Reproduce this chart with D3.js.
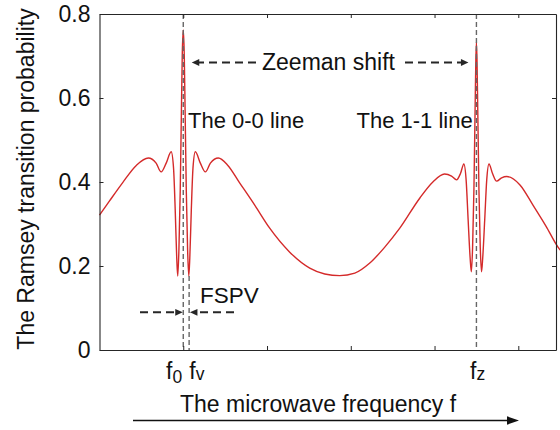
<!DOCTYPE html>
<html>
<head>
<meta charset="utf-8">
<script src="https://cdn.jsdelivr.net/npm/d3@7/dist/d3.min.js"></script>
<style>
  html, body { margin: 0; padding: 0; background: #fff; }
  svg { display: block; }
  text { font-family: "Liberation Sans", Arial, Helvetica, sans-serif; fill: #111; }
</style>
</head>
<body>
<script>
// ---------- data ----------
const yTickValues = [0, 0.2, 0.4, 0.6, 0.8];
const yTickLabels = ["0", "0.2", "0.4", "0.6", "0.8"];
const xTickValues = [1, 2, 3, 4, 5];

// microwave frequency (arbitrary units, f0 = 1, fz = 4.5)
const freq = [
  0.000, 0.120, 0.275, 0.442,
  0.582, 0.676, 0.736, 0.796, 0.856, 0.884, 0.904, 0.922, 0.934, 0.948, 0.964, 0.978, 0.988,
  1.000,
  1.012, 1.022, 1.036, 1.052, 1.066, 1.078, 1.096, 1.116, 1.144, 1.204, 1.264, 1.324, 1.419,
  1.530, 1.673, 1.853, 2.032, 2.271, 2.510, 2.689, 2.868, 3.048, 3.227, 3.406, 3.585, 3.825, 3.980,
  4.119, 4.203, 4.263, 4.311, 4.350, 4.377, 4.401, 4.425, 4.439, 4.454, 4.470, 4.484, 4.493,
  4.500,
  4.507, 4.516, 4.530, 4.546, 4.561, 4.575, 4.599, 4.623, 4.650, 4.691, 4.741, 4.801, 4.861,
  5.020, 5.175, 5.330, 5.474, 5.500
];
// Ramsey transition probability
const prob = [
  0.321, 0.355, 0.398, 0.440,
  0.457, 0.445, 0.424, 0.445, 0.472, 0.433, 0.333, 0.219, 0.176, 0.238, 0.381, 0.571, 0.702,
  0.762,
  0.702, 0.571, 0.381, 0.238, 0.176, 0.219, 0.333, 0.433, 0.472, 0.445, 0.424, 0.445, 0.457,
  0.440, 0.398, 0.345, 0.290, 0.233, 0.195, 0.181, 0.177, 0.183, 0.207, 0.245, 0.290, 0.362, 0.400,
  0.419, 0.414, 0.405, 0.421, 0.443, 0.405, 0.310, 0.219, 0.186, 0.243, 0.381, 0.571, 0.690,
  0.733,
  0.690, 0.571, 0.381, 0.243, 0.186, 0.219, 0.310, 0.405, 0.443, 0.421, 0.402, 0.410, 0.413,
  0.393, 0.345, 0.295, 0.245, 0.238
];

const f0 = 1.0, fv = 1.07, fz = 4.5;
const fvDipProb = 0.176;

// ---------- chart ----------
const W = 560, H = 430;
const svg = d3.select("body").append("svg").attr("width", W).attr("height", H);

const x = d3.scaleLinear().domain([0, 5.45]).range([99.5, 556]);
const y = d3.scaleLinear().domain([0, 0.8]).range([350, 14]);

const axisColor = "#262626";
function styleAxis(g) {
  g.selectAll("path.domain").attr("stroke", axisColor).attr("stroke-width", 1.1);
  g.selectAll(".tick line").attr("stroke", axisColor).attr("stroke-width", 1);
}

// curve
const line = d3.line()
  .x((d, i) => x(freq[i]))
  .y((d, i) => y(prob[i]))
  .curve(d3.curveMonotoneX);
svg.append("path")
  .attr("d", line(freq))
  .attr("fill", "none")
  .attr("stroke", "#d42a2a")
  .attr("stroke-width", 1.4);

// vertical dashed markers
const vdash = "5,3";
const vcol = "#666";
svg.append("line").attr("x1", x(f0)).attr("x2", x(f0)).attr("y1", y(0.8)).attr("y2", y(0))
  .attr("stroke", vcol).attr("stroke-width", 1.4).attr("stroke-dasharray", vdash);
svg.append("line").attr("x1", x(fv)).attr("x2", x(fv)).attr("y1", y(fvDipProb)).attr("y2", y(0))
  .attr("stroke", vcol).attr("stroke-width", 1.4).attr("stroke-dasharray", vdash);
svg.append("line").attr("x1", x(fz)).attr("x2", x(fz)).attr("y1", y(0.8)).attr("y2", y(0))
  .attr("stroke", vcol).attr("stroke-width", 1.4).attr("stroke-dasharray", vdash);

// axes (box with inward ticks)
const gL = svg.append("g").attr("transform", `translate(${x(0)},0)`)
  .call(d3.axisLeft(y).tickValues(yTickValues).tickFormat((d, i) => yTickLabels[i])
    .tickSizeInner(-4).tickSizeOuter(0).tickPadding(9));
styleAxis(gL);
gL.selectAll(".tick text").attr("font-size", 23).attr("fill", "#111")
  .attr("font-family", '"Liberation Sans", Arial, sans-serif');

const gR = svg.append("g").attr("transform", `translate(${x(5.45)},0)`)
  .call(d3.axisRight(y).tickValues(yTickValues).tickFormat("").tickSizeInner(-4).tickSizeOuter(0));
styleAxis(gR);

const gB = svg.append("g").attr("transform", `translate(0,${y(0)})`)
  .call(d3.axisBottom(x).tickValues(xTickValues).tickFormat("").tickSizeInner(-4).tickSizeOuter(0));
styleAxis(gB);

const gT = svg.append("g").attr("transform", `translate(0,${y(0.8)})`)
  .call(d3.axisTop(x).tickValues(xTickValues).tickFormat("").tickSizeInner(-4).tickSizeOuter(0));
styleAxis(gT);

// y label
svg.append("text")
  .attr("transform", "translate(33.5,179) rotate(-90)")
  .attr("text-anchor", "middle")
  .attr("font-size", 23)
  .text("The Ramsey transition probability");

// arrows helper
const arrowCol = "#262626";
function dashedArrow(x1, x2, yy, dir) {
  // dir: -1 head on left (at x1), +1 head on right (at x2)
  const head = 7.5, hw = 3.4;
  const tip = dir < 0 ? x1 : x2;
  const tail = dir < 0 ? x2 : x1;
  svg.append("line")
    .attr("x1", tail).attr("x2", tip - dir * head * 0.8).attr("y1", yy).attr("y2", yy)
    .attr("stroke", arrowCol).attr("stroke-width", 2).attr("stroke-dasharray", "8,5");
  svg.append("path")
    .attr("d", `M${tip},${yy} L${tip - dir * head},${yy - hw} L${tip - dir * head},${yy + hw} Z`)
    .attr("fill", arrowCol);
}

// Zeeman shift
dashedArrow(x(f0) + 8.5, 256, 62.5, -1);
dashedArrow(405, x(fz) - 8, 62.5, +1);
svg.append("text").attr("x", 262).attr("y", 69.5).attr("font-size", 23).text("Zeeman shift");

svg.append("text").attr("x", 188).attr("y", 128).attr("font-size", 22).text("The 0-0 line");
svg.append("text").attr("x", 356.5).attr("y", 128).attr("font-size", 22).text("The 1-1 line");

// FSPV
dashedArrow(140, x(f0) - 0.5, 312.3, +1);
dashedArrow(x(fv) + 0.8, 234, 312.3, -1);
svg.append("text").attr("x", 200).attr("y", 302.5).attr("font-size", 22.5).text("FSPV");

// frequency labels
function fLabel(xx, sub, subDy) {
  const t = svg.append("text").attr("x", xx).attr("y", 378.5).attr("font-size", 23);
  t.append("tspan").text("f");
  t.append("tspan").attr("font-size", 17.5).attr("dy", subDy).text(sub);
}
fLabel(166, "0", 4.5);
fLabel(189.3, "v", 1);
fLabel(470, "z", 1.5);

// x title and arrow
svg.append("text").attr("x", 180).attr("y", 411.5).attr("font-size", 23).text("The microwave frequency f");
svg.append("line").attr("x1", 133).attr("x2", 508).attr("y1", 420.5).attr("y2", 420.5)
  .attr("stroke", "#111").attr("stroke-width", 1.3);
svg.append("path").attr("d", "M519,420.5 L507,416.3 L507,424.7 Z").attr("fill", "#111");
</script>
</body>
</html>
